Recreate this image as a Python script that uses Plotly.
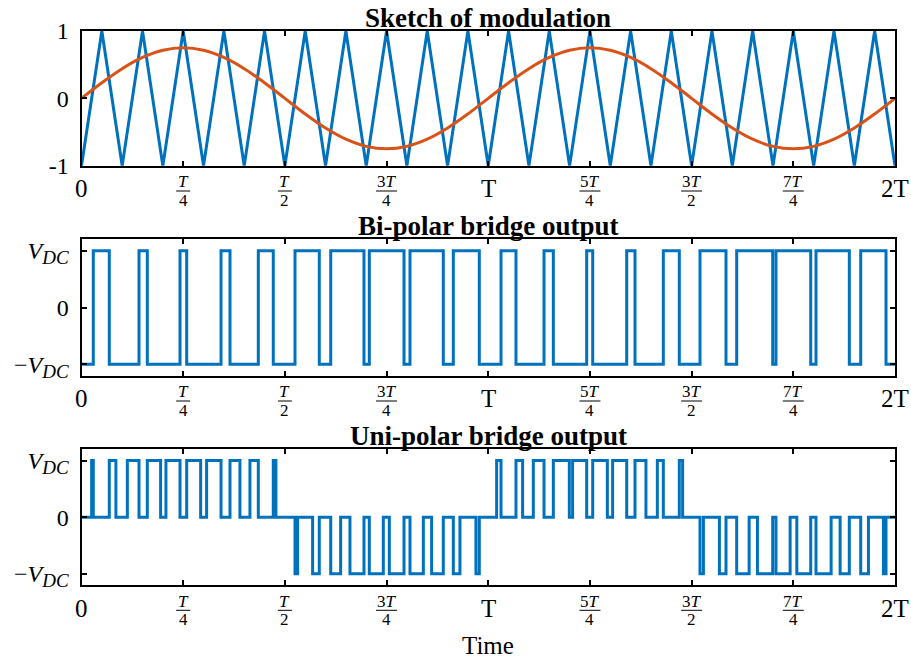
import plotly.graph_objects as go

# ---------------- data ----------------
# Top panel: triangular carrier vertices and sinusoidal reference (time in units of T)
tri_t = [0.00, 0.05, 0.10, 0.15, 0.20, 0.25, 0.30, 0.35, 0.40, 0.45,
         0.50, 0.55, 0.60, 0.65, 0.70, 0.75, 0.80, 0.85, 0.90, 0.95,
         1.00, 1.05, 1.10, 1.15, 1.20, 1.25, 1.30, 1.35, 1.40, 1.45,
         1.50, 1.55, 1.60, 1.65, 1.70, 1.75, 1.80, 1.85, 1.90, 1.95, 2.00]
tri_v = [-1, 1, -1, 1, -1, 1, -1, 1, -1, 1,
         -1, 1, -1, 1, -1, 1, -1, 1, -1, 1,
         -1, 1, -1, 1, -1, 1, -1, 1, -1, 1,
         -1, 1, -1, 1, -1, 1, -1, 1, -1, 1, -1]
ref_t = tri_t
ref_v = [0.0, 0.2318, 0.4408, 0.6068, 0.7133, 0.75, 0.7133, 0.6068, 0.4408, 0.2318,
         0.0, -0.2318, -0.4408, -0.6068, -0.7133, -0.75, -0.7133, -0.6068, -0.4408, -0.2318,
         0.0, 0.2318, 0.4408, 0.6068, 0.7133, 0.75, 0.7133, 0.6068, 0.4408, 0.2318,
         0.0, -0.2318, -0.4408, -0.6068, -0.7133, -0.75, -0.7133, -0.6068, -0.4408, -0.2318, 0.0]

# Bi-polar output: switching instants (starts at -VDC, toggles at each edge)
bi_edges = [0.029, 0.0683, 0.1414, 0.1618, 0.2422, 0.2586, 0.343, 0.3651, 0.4347, 0.4715,
            0.5249, 0.5846, 0.6127, 0.6945, 0.7076, 0.7929, 0.8076, 0.8895, 0.9141, 0.978,
            1.0314, 1.0682, 1.1371, 1.16, 1.242, 1.2568, 1.3404, 1.3608, 1.4304, 1.4697,
            1.5206, 1.5845, 1.6108, 1.6993, 1.7074, 1.7928, 1.8058, 1.8877, 1.9157, 1.9779]
bi_first_level = -1

# Uni-polar output: pulses (start, end, level), zero elsewhere
uni_start = [0.0249, 0.0683, 0.1127, 0.1618, 0.2076, 0.2586, 0.3076, 0.3651, 0.4141, 0.4715,
             0.5249, 0.5682, 0.6127, 0.66, 0.7076, 0.7568, 0.8076, 0.8608, 0.9141, 0.9697,
             1.0206, 1.0682, 1.1108, 1.16, 1.2074, 1.2568, 1.3058, 1.3608, 1.4157, 1.4697,
             1.5206, 1.5683, 1.6108, 1.6618, 1.7074, 1.7586, 1.8058, 1.8651, 1.9157, 1.9715]
uni_end = [0.029, 0.0846, 0.1414, 0.1945, 0.2422, 0.2929, 0.343, 0.3895, 0.4347, 0.478,
           0.5314, 0.5846, 0.6371, 0.6945, 0.742, 0.7929, 0.8404, 0.8895, 0.9304, 0.978,
           1.0314, 1.0845, 1.1371, 1.1993, 1.242, 1.2928, 1.3404, 1.3877, 1.4304, 1.4779,
           1.529, 1.5845, 1.6414, 1.6993, 1.7422, 1.7928, 1.843, 1.8877, 1.9347, 1.9779]
uni_level = [1] * 10 + [-1] * 10 + [1] * 10 + [-1] * 10

x_tickvals = [0, 0.25, 0.5, 0.75, 1, 1.25, 1.5, 1.75, 2]
x_plain = {0: "0", 1: "T", 2: "2T"}
x_frac = {0.25: ("<i>T</i>", "4"), 0.5: ("<i>T</i>", "2"), 0.75: ("3<i>T</i>", "4"),
          1.25: ("5<i>T</i>", "4"), 1.5: ("3<i>T</i>", "2"), 1.75: ("7<i>T</i>", "4")}
titles = ["Sketch of modulation", "Bi-polar bridge output", "Uni-polar bridge output"]
xlabel = "Time"

# ---------------- build step series ----------------
bi_x = [0.0]
bi_y = [bi_first_level]
lvl = bi_first_level
for e in bi_edges:
    lvl = -lvl
    bi_x.append(e)
    bi_y.append(lvl)
bi_x.append(2.0)
bi_y.append(lvl)

uni_x = [0.0]
uni_y = [0]
for s, e, l in zip(uni_start, uni_end, uni_level):
    uni_x += [s, e]
    uni_y += [l, 0]
uni_x.append(2.0)
uni_y.append(0)

BLUE = "#0072BD"
ORANGE = "#D95319"
FONT = "Liberation Serif"
LW = 3

fig = go.Figure()
fig.add_trace(go.Scatter(x=tri_t, y=tri_v, mode="lines", line=dict(color=BLUE, width=LW),
                         xaxis="x", yaxis="y", showlegend=False))
fig.add_trace(go.Scatter(x=ref_t, y=ref_v, mode="lines", line=dict(color=ORANGE, width=LW, shape="spline"),
                         xaxis="x", yaxis="y", showlegend=False))
fig.add_trace(go.Scatter(x=bi_x, y=bi_y, mode="lines", line=dict(color=BLUE, width=LW, shape="hv"),
                         xaxis="x2", yaxis="y2", showlegend=False))
fig.add_trace(go.Scatter(x=uni_x, y=uni_y, mode="lines", line=dict(color=BLUE, width=LW, shape="hv"),
                         xaxis="x3", yaxis="y3", showlegend=False))

W, H = 911, 662
xdom = [81.5 / W, 895 / W]
ydoms = [[1 - 165.7 / H, 1 - 31 / H], [1 - 375.7 / H, 1 - 239.3 / H], [1 - 585 / H, 1 - 449.3 / H]]

axcommon = dict(showgrid=False, zeroline=False, showline=True, linecolor="black", linewidth=2,
                mirror="ticks", ticks="inside", ticklen=5, tickwidth=2, tickcolor="black",
                automargin=False)

vdc = "<i>V</i><sub><span style=\"font-size:19px\"><i>DC</i></span></sub>"
ylabels = [(["-1", "0", "1"], [-1, 0, 1], [-1, 1]),
           (["\u2212" + vdc, "0", vdc], [-1, 0, 1], [-1.2, 1.2]),
           (["\u2212" + vdc, "0", vdc], [-1, 0, 1], [-1.2, 1.2])]

layout = dict(width=W, height=H, margin=dict(l=0, r=0, t=0, b=0, pad=0, autoexpand=False),
              plot_bgcolor="white", paper_bgcolor="white",
              font=dict(family=FONT, color="black", size=22), showlegend=False)
for i in range(3):
    xs = "" if i == 0 else str(i + 1)
    ys = xs
    layout["xaxis" + xs] = dict(domain=xdom, range=[0, 2], anchor="y" + ys, tickvals=x_tickvals,
                                showticklabels=False, **axcommon)
    txt, tv, rng = ylabels[i]
    layout["yaxis" + ys] = dict(domain=ydoms[i], range=rng, anchor="x" + xs, tickvals=tv, ticktext=txt,
                                ticklabelstandoff=6,
                                tickfont=dict(family=FONT, size=24, color="black"), **axcommon)
fig.update_layout(**layout)

annotations = []
shapes = []
for i in range(3):
    xs = "x" if i == 0 else "x" + str(i + 1)
    ydref = ("y" if i == 0 else "y" + str(i + 1)) + " domain"
    # title
    annotations.append(dict(text="<b>" + titles[i] + "</b>", xref=xs + " domain", x=0.5, yref=ydref, y=1,
                            yshift=13.5, yanchor="middle", xanchor="center", showarrow=False,
                            font=dict(family=FONT, size=27, color="black")))
    for v in x_tickvals:
        if v in x_plain:
            annotations.append(dict(text=x_plain[v], xref=xs, x=v, yref=ydref, y=0, yshift=-23,
                                    yanchor="middle", xanchor="center", showarrow=False,
                                    font=dict(family=FONT, size=25, color="black")))
        else:
            num, den = x_frac[v]
            annotations.append(dict(text=num, xref=xs, x=v, yref=ydref, y=0, yshift=-16,
                                    yanchor="middle", xanchor="center", showarrow=False,
                                    font=dict(family=FONT, size=17, color="black")))
            annotations.append(dict(text=den, xref=xs, x=v, yref=ydref, y=0, yshift=-34.5,
                                    yanchor="middle", xanchor="center", showarrow=False,
                                    font=dict(family=FONT, size=17, color="black")))
            half = 7 if len(num) < 9 else 10.5
            shapes.append(dict(type="line", xref=xs, yref=ydref, xsizemode="pixel", ysizemode="pixel",
                               xanchor=v, yanchor=0, x0=-half, x1=half, y0=-25.3, y1=-25.3,
                               line=dict(color="black", width=1)))
annotations.append(dict(text=xlabel, xref="x3 domain", x=0.5, yref="y3 domain", y=0, yshift=-60,
                        yanchor="middle", xanchor="center", showarrow=False,
                        font=dict(family=FONT, size=25, color="black")))
fig.update_layout(annotations=annotations, shapes=shapes)

fig.write_html("out.html")
